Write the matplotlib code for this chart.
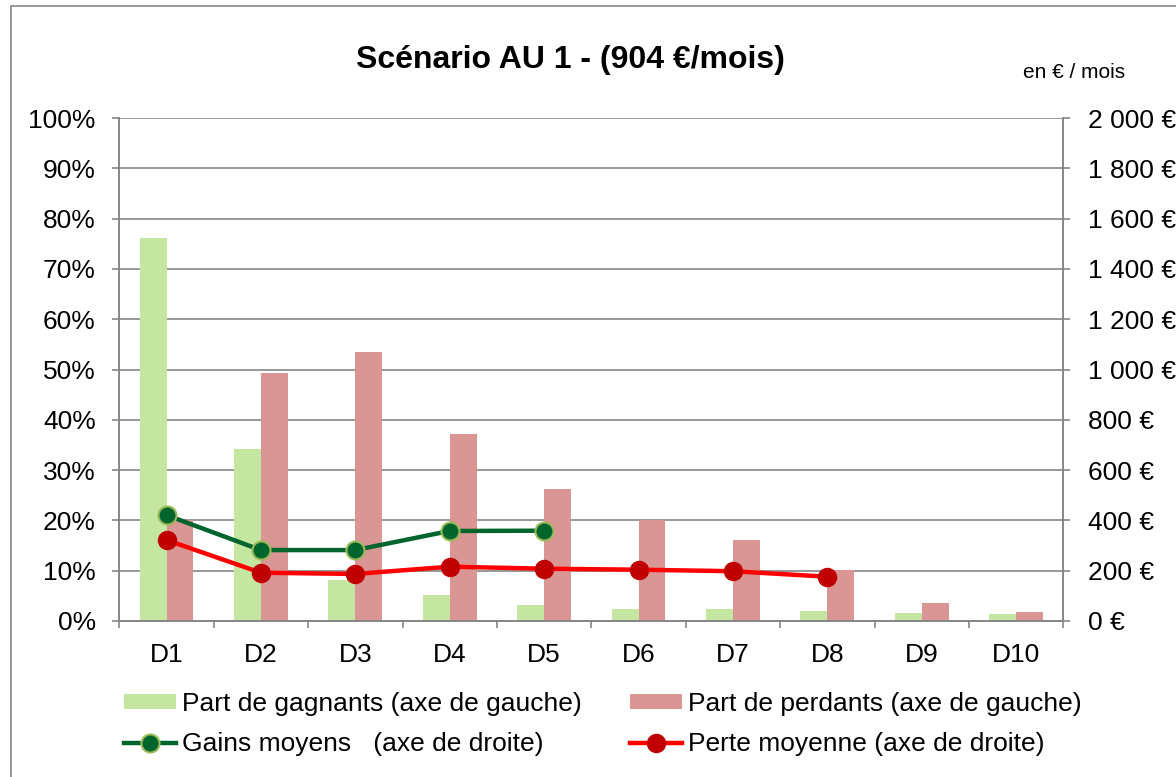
import matplotlib.pyplot as plt
import matplotlib.patches as mpatches
import numpy as np

plt.rcParams['font.family'] = ['Liberation Sans', 'DejaVu Sans']

deciles = ['D1', 'D2', 'D3', 'D4', 'D5', 'D6', 'D7', 'D8', 'D9', 'D10']
part_gagnants = [76.1, 34.2, 8.1, 5.2, 3.2, 2.4, 2.4, 2.0, 1.5, 1.3]
part_perdants = [20.0, 49.4, 53.5, 37.2, 26.2, 20.1, 16.1, 10.1, 3.6, 1.8]
gains_moyens = [421, 282, 282, 358, 359]
perte_moyenne = [322, 192, 187, 216, 208, 204, 198, 176]

W, H = 1176, 777
fig = plt.figure(figsize=(W / 100, H / 100), dpi=100)
ax = fig.add_axes([119.3 / W, 1 - 621 / H, (1063.3 - 119.3) / W, (621 - 118) / H])
ax2 = ax.twinx()

grey = '#868686'
x = np.arange(len(deciles))
bw = 0.2857
ax.bar(x - bw / 2, part_gagnants, bw, color='#C5E6A0', zorder=2,
       label='Part de gagnants (axe de gauche)')
ax.bar(x + bw / 2, part_perdants, bw, color='#D99694', zorder=2,
       label='Part de perdants (axe de gauche)')

ax2.plot(x[:len(gains_moyens)], gains_moyens, color='#00642D', lw=3.2,
         marker='o', ms=13, mfc='#00642D', mec='#9BBB59', mew=1.5,
         label='Gains moyens   (axe de droite)')
ax2.plot(x[:len(perte_moyenne)], perte_moyenne, color='#FF0000', lw=3.2,
         marker='o', ms=13, mfc='#C00000', mec='#C00000', mew=1,
         label='Perte moyenne (axe de droite)')

ax.set_xlim(-0.5, len(deciles) - 0.5)
ax.set_ylim(0, 100)
ax2.set_ylim(0, 2000)

ax.set_yticks(np.arange(0, 101, 10))
ax.set_yticklabels([f'{v}%' for v in range(0, 101, 10)])
ax2.set_yticks(np.arange(0, 2001, 200))
ax2.set_yticklabels([f'{v:,} €'.replace(',', ' ') for v in range(0, 2001, 200)])

ax.set_xticks(x)
ax.set_xticklabels(deciles)
ax.set_xticks(np.arange(-0.5, len(deciles)), minor=True)
ax.tick_params(axis='x', which='major', length=0, pad=15.5, labelsize=19)
ax.tick_params(axis='x', which='minor', length=5, width=1.2, color=grey)
ax.tick_params(axis='y', length=5, width=1.2, color=grey, pad=12, labelsize=19)
ax2.tick_params(axis='y', length=5, width=1.2, color=grey, pad=13, labelsize=19)

ax.grid(axis='y', color=grey, lw=1.2)
ax.set_axisbelow(True)
for a in (ax, ax2):
    a.spines['top'].set_visible(False)
    for s in ('left', 'right', 'bottom'):
        a.spines[s].set_color(grey)
        a.spines[s].set_linewidth(1.2)

fig.text(570 / W, 1 - 60 / H, 'Scénario AU 1 - (904 €/mois)', fontsize=23,
         fontweight='bold', ha='center', va='center')
fig.text(1074 / W, 1 - 73 / H, 'en € / mois', fontsize=15, ha='center', va='center')

h1, l1 = ax.get_legend_handles_labels()
h2, l2 = ax2.get_legend_handles_labels()
handles = [h1[0], h2[0], h1[1], h2[1]]
labels = [l1[0], l2[0], l1[1], l2[1]]
fig.legend(handles, labels, ncol=2, loc='upper left',
           bbox_to_anchor=(124 / W, 1 - 691.5 / H), frameon=False, fontsize=19,
           handlelength=1.97, handleheight=0.5, handletextpad=0.23,
           columnspacing=1.82, labelspacing=0.63, borderpad=0, borderaxespad=0)

fig.patches.append(mpatches.Rectangle((10.5 / W, -0.05), 1.1, 1 - 5.5 / H + 0.05,
                                      transform=fig.transFigure, fill=False,
                                      edgecolor=grey, lw=1.2, clip_on=False))

fig.savefig('out.png', dpi=100)
